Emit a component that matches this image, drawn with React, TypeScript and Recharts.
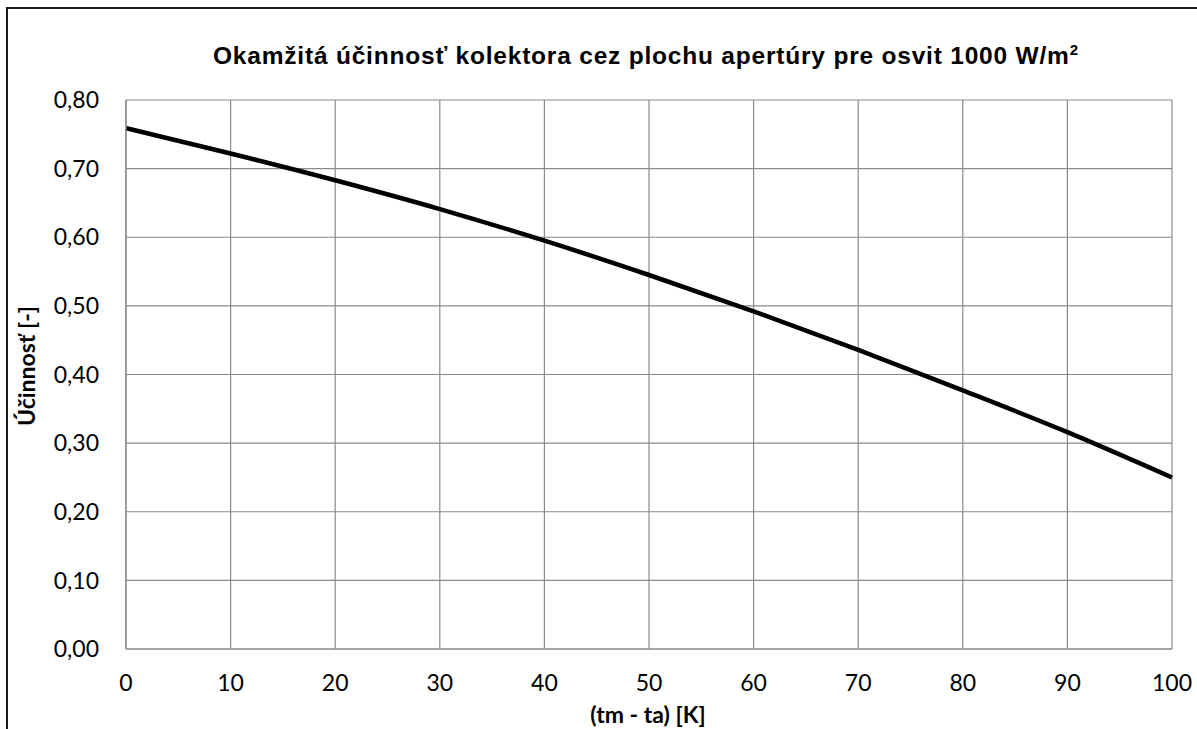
import { CartesianGrid, Line, LineChart, XAxis, YAxis } from "recharts";

// teplotný rozdiel (tm - ta) [K]
const deltaT = [0, 10, 20, 30, 40, 50, 60, 70, 80, 90, 100];
// okamžitá účinnosť [-]
const efficiency = [0.759, 0.722, 0.683, 0.641, 0.595, 0.545, 0.492, 0.436, 0.377, 0.316, 0.25];

const xTicks = [0, 10, 20, 30, 40, 50, 60, 70, 80, 90, 100];
const yTicks = [0, 0.1, 0.2, 0.3, 0.4, 0.5, 0.6, 0.7, 0.8];

const data = deltaT.map((x, i) => ({ x, eta: efficiency[i] }));

const W = 1197;
const H = 729;
const tickFont = { fontFamily: "Lato, 'Open Sans', sans-serif", fontSize: 23, fill: "#000" };

export default function App() {
  return (
    <div style={{ position: "relative", width: W, height: H, background: "#fff" }}>
      <style>{`body{margin:0;overflow:hidden}`}</style>
      <div
        style={{
          position: "absolute",
          left: 6,
          top: 7,
          width: W - 6,
          height: H - 7,
          borderLeft: "2px solid #1a1a1a",
          borderTop: "2px solid #1a1a1a",
          boxSizing: "border-box",
        }}
      />
      <div style={{ position: "absolute", left: 0, top: 0 }}>
        <LineChart width={W} height={H} data={data} margin={{ top: 100, right: 25, left: 26, bottom: 50 }}>
          <CartesianGrid stroke="#8a8a8a" strokeWidth={1.2} />
          <XAxis
            dataKey="x"
            type="number"
            domain={[0, 100]}
            ticks={xTicks}
            height={30}
            tickLine={false}
            axisLine={{ stroke: "#8a8a8a", strokeWidth: 1.2 }}
            tickSize={0}
            tickMargin={26}
            tick={tickFont}
            interval={0}
          />
          <YAxis
            type="number"
            domain={[0, 0.8]}
            ticks={yTicks}
            width={100}
            tickLine={false}
            axisLine={{ stroke: "#8a8a8a", strokeWidth: 1.2 }}
            tickSize={0}
            tickMargin={27}
            tick={tickFont}
            interval={0}
            tickFormatter={(v: number) => v.toFixed(2).replace(".", ",")}
          />
          <Line
            type="monotone"
            dataKey="eta"
            stroke="#000"
            strokeWidth={4.5}
            dot={false}
            isAnimationActive={false}
          />
        </LineChart>
      </div>
      <svg
        width={W}
        height={H}
        style={{ position: "absolute", left: 0, top: 0, pointerEvents: "none" }}
      >
        <text
          x={213}
          y={64}
          textLength={865}
          lengthAdjust="spacing"
          fontFamily="'Liberation Sans', Arial, sans-serif"
          fontWeight="bold"
          fontSize={24.5}
          fill="#000"
        >
          Okamžitá účinnosť kolektora cez plochu apertúry pre osvit 1000 W/m
          <tspan fontSize={15} dy={-9}>2</tspan>
        </text>
        <text
          x={648}
          y={723}
          textAnchor="middle"
          fontFamily="Lato, 'Open Sans', sans-serif"
          fontWeight="bold"
          fontSize={23}
          fill="#000"
        >
          (tm - ta) [K]
        </text>
        <text
          transform="rotate(-90 35 366)"
          x={35}
          y={366}
          textAnchor="middle"
          fontFamily="Lato, 'Open Sans', sans-serif"
          fontWeight="bold"
          fontSize={23}
          fill="#000"
        >
          Účinnosť [-]
        </text>
      </svg>
    </div>
  );
}
